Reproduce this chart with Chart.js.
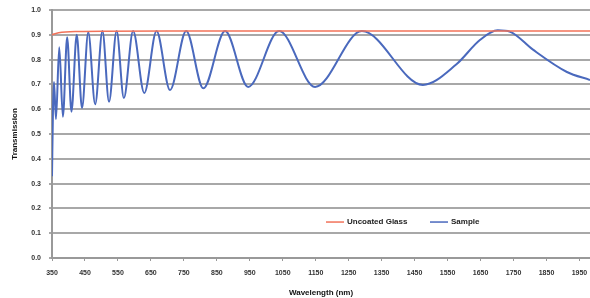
<!DOCTYPE html>
<html>
<head>
<meta charset="utf-8">
<script src="https://cdn.jsdelivr.net/npm/chart.js@4/dist/chart.umd.min.js"></script>
<style>
  html, body { margin: 0; padding: 0; background: #fff; }
  #wrap { width: 590px; height: 298px; }
</style>
</head>
<body>
<div id="wrap"><canvas id="chart" width="590" height="298"></canvas></div>
<script>
// tick labels on the wavelength axis
const wavelengthTicks = [350, 450, 550, 650, 750, 850, 950, 1050, 1150, 1250, 1350, 1450, 1550, 1650, 1750, 1850, 1950];

// Uncoated Glass
const glassWavelength = [350, 370, 420, 700, 1300, 1982];
const glassValues     = [0.900, 0.908, 0.913, 0.915, 0.915, 0.915];

// Sample: peaks and troughs of the fringes (plus a few points on the wide ones)
const sampleWavelength = [350, 353, 356, 362, 372, 383, 396, 409, 425, 441, 460, 481, 503, 523, 546, 568, 596, 630, 667, 708, 757, 809, 875, 945, 1039, 1148, 1290, 1475, 1576, 1648, 1702, 1740, 1809, 1912, 1982];
const sampleValues     = [0.33, 0.60, 0.71, 0.56, 0.85, 0.57, 0.89, 0.59, 0.90, 0.605, 0.91, 0.62, 0.915, 0.63, 0.915, 0.645, 0.915, 0.665, 0.915, 0.677, 0.915, 0.684, 0.915, 0.69, 0.915, 0.69, 0.915, 0.698, 0.78, 0.879, 0.918, 0.912, 0.84, 0.75, 0.718];

const toPoints = (xs, ys) => xs.map((x, i) => ({x: x, y: ys[i]}));

const FONT = "'Liberation Sans', Arial, sans-serif";

// legend sits inside the plot, just above the 0.1 line
const insideLegend = {
  id: 'insideLegend',
  afterDraw(chart) {
    const ctx = chart.ctx;
    const y = chart.scales.y.getPixelForValue(0.145);
    const items = [
      {label: 'Uncoated Glass', color: chart.data.datasets[0].borderColor, x: 326},
      {label: 'Sample', color: chart.data.datasets[1].borderColor, x: 430}
    ];
    ctx.save();
    ctx.font = 'bold 8px ' + FONT;
    ctx.textBaseline = 'middle';
    for (const item of items) {
      ctx.strokeStyle = item.color;
      ctx.lineWidth = 1.5;
      ctx.beginPath();
      ctx.moveTo(item.x, y);
      ctx.lineTo(item.x + 18, y);
      ctx.stroke();
      ctx.fillStyle = '#222';
      ctx.fillText(item.label, item.x + 21, y);
    }
    ctx.restore();
  }
};

new Chart(document.getElementById('chart'), {
  type: 'line',
  data: {
    datasets: [
      {
        label: 'Uncoated Glass',
        data: toPoints(glassWavelength, glassValues),
        borderColor: '#f2735a',
        borderWidth: 1.5,
        pointRadius: 0,
        cubicInterpolationMode: 'monotone'
      },
      {
        label: 'Sample',
        data: toPoints(sampleWavelength, sampleValues),
        borderColor: '#4a69bd',
        borderWidth: 2,
        pointRadius: 0,
        cubicInterpolationMode: 'monotone'
      }
    ]
  },
  options: {
    responsive: false,
    animation: false,
    layout: { padding: { top: 10, right: 0, left: 0, bottom: 0 } },
    plugins: {
      legend: { display: false },
      tooltip: { enabled: false }
    },
    scales: {
      x: {
        type: 'linear',
        min: 350,
        max: 1982,
        afterBuildTicks(scale) {
          scale.ticks = wavelengthTicks.map(v => ({value: v}));
        },
        afterFit(scale) {
          scale.height = 40;
          scale.paddingLeft = 0;
          scale.paddingRight = 0;
        },
        grid: { drawOnChartArea: false, drawTicks: true, tickLength: 3, color: '#999' },
        border: { display: true, color: '#999', width: 2 },
        ticks: {
          maxRotation: 0,
          autoSkip: false,
          padding: 8,
          color: '#333',
          font: { family: FONT, size: 7, weight: 'bold' },
          callback: v => String(v)
        },
        title: {
          display: true,
          text: 'Wavelength (nm)',
          color: '#111',
          font: { family: FONT, size: 8, weight: 'bold' },
          padding: { top: 1, bottom: 0 }
        }
      },
      y: {
        min: 0,
        max: 1,
        afterFit(scale) {
          scale.width = 52;
          scale.paddingTop = 0;
          scale.paddingBottom = 0;
        },
        ticks: {
          stepSize: 0.1,
          padding: 8,
          color: '#333',
          font: { family: FONT, size: 7, weight: 'bold' },
          callback: v => Number(v).toFixed(1)
        },
        grid: { color: '#a8a8a8', lineWidth: 2, tickLength: 3 },
        border: { display: true, color: '#999', width: 2 },
        title: {
          display: true,
          text: 'Transmission',
          color: '#111',
          font: { family: FONT, size: 8, weight: 'bold' },
          padding: { top: 10, bottom: 4 }
        }
      }
    }
  },
  plugins: [insideLegend]
});
</script>
</body>
</html>
